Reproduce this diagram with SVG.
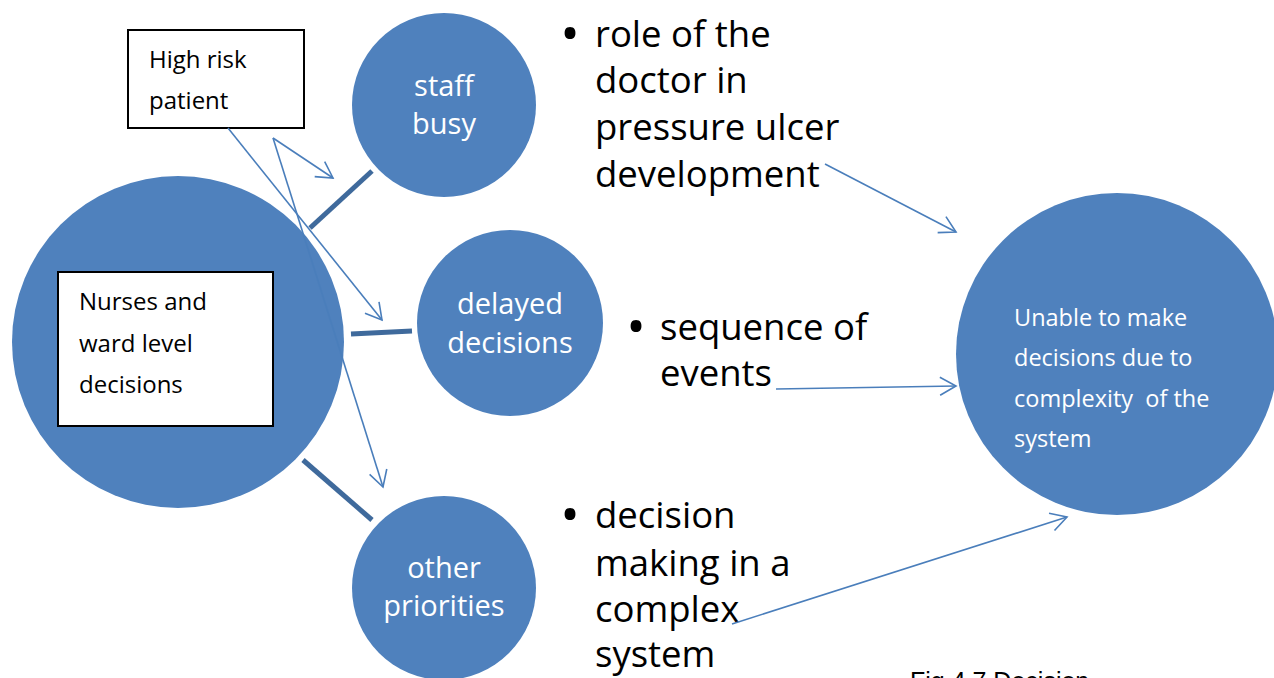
<svg xmlns="http://www.w3.org/2000/svg" width="1274" height="678" viewBox="0 0 1274 678">
<style>
.c{fill:#4F81BD}
.box{fill:#fff;stroke:#000;stroke-width:2}
.bt{font-family:"Open Sans","Liberation Sans",sans-serif;font-size:24px;fill:#000}
.wt{font-family:"Open Sans","Liberation Sans",sans-serif;font-size:29px;fill:#fff;text-anchor:middle}
.rt{font-family:"Open Sans","Liberation Sans",sans-serif;font-size:23.5px;fill:#fff}
.big{font-family:"Open Sans","Liberation Sans",sans-serif;font-size:36.5px;fill:#000}
.dot{font-family:"Open Sans","Liberation Sans",sans-serif;font-size:52px;fill:#000;text-anchor:middle}
.thick{stroke:#3F6A9C;stroke-width:5;fill:none}
.thin{stroke:#4A7EBB;stroke-width:1.6;fill:none;marker-end:url(#ah)}
.cap{font-family:"Liberation Sans",Arial,sans-serif;font-size:25px;fill:#000}
</style>
<defs>
<marker id="ah" viewBox="0 0 20 20" markerWidth="20" markerHeight="20" markerUnits="userSpaceOnUse" refX="18" refY="10" orient="auto">
<path d="M2,1 L18,10 L2,19" fill="none" stroke="#4A7EBB" stroke-width="1.6"/>
</marker>
</defs>
<rect width="1274" height="678" fill="#fff"/>
<g id="nurses">
<circle class="c" cx="178" cy="342" r="166"/>
<rect class="box" x="58" y="272" width="215" height="154"/>
<text class="bt" x="79" y="310">Nurses and</text>
<text class="bt" x="79" y="352">ward level</text>
<text class="bt" x="79" y="393">decisions</text>
</g>
<g id="highrisk">
<rect class="box" x="128" y="30" width="176" height="98"/>
<text class="bt" x="149" y="68">High risk</text>
<text class="bt" x="149" y="109">patient</text>
</g>
<g id="staff">
<circle class="c" cx="444" cy="105" r="92"/>
<text class="wt" x="444" y="96">staff</text>
<text class="wt" x="444" y="134">busy</text>
</g>
<g id="delayed">
<circle class="c" cx="510" cy="323" r="93"/>
<text class="wt" x="510" y="314">delayed</text>
<text class="wt" x="510" y="353">decisions</text>
</g>
<g id="other">
<circle class="c" cx="444" cy="588" r="92"/>
<text class="wt" x="444" y="578">other</text>
<text class="wt" x="444" y="616">priorities</text>
</g>
<g id="unable">
<circle class="c" cx="1117" cy="354" r="161"/>
<text class="rt" x="1014" y="326">Unable to make</text>
<text class="rt" x="1014" y="366">decisions due to</text>
<text class="rt" x="1014" y="407" xml:space="preserve">complexity  of the</text>
<text class="rt" x="1014" y="447">system</text>
</g>
<g id="bullet1">
<text class="dot" x="570" y="52">•</text>
<text class="big" x="595" y="47">role of the</text>
<text class="big" x="595" y="93">doctor in</text>
<text class="big" x="595" y="140">pressure ulcer</text>
<text class="big" x="595" y="187">development</text>
</g>
<g id="bullet2">
<text class="dot" x="636" y="345">•</text>
<text class="big" x="660" y="340">sequence of</text>
<text class="big" x="660" y="386">events</text>
</g>
<g id="bullet3">
<text class="dot" x="570" y="533">•</text>
<text class="big" x="595" y="528">decision</text>
<text class="big" x="595" y="576">making in a</text>
<text class="big" x="595" y="622">complex</text>
<text class="big" x="595" y="667">system</text>
</g>
<g id="caption">
<text class="cap" x="910" y="690">Fig 4.7 Decision</text>
</g>
<g id="connectors">
<line class="thick" x1="310" y1="228" x2="372" y2="171"/>
<line class="thick" x1="351" y1="334" x2="412" y2="331"/>
<line class="thick" x1="303" y1="460" x2="372" y2="520"/>
<line class="thin" x1="273" y1="138" x2="333" y2="178"/>
<line class="thin" x1="273" y1="138" x2="383" y2="487"/>
<line class="thin" x1="228" y1="128" x2="382" y2="320"/>
<line class="thin" x1="825" y1="164" x2="956" y2="232"/>
<line class="thin" x1="776" y1="389" x2="956" y2="386"/>
<line class="thin" x1="732" y1="624" x2="1067" y2="517"/>
</g>
</svg>
